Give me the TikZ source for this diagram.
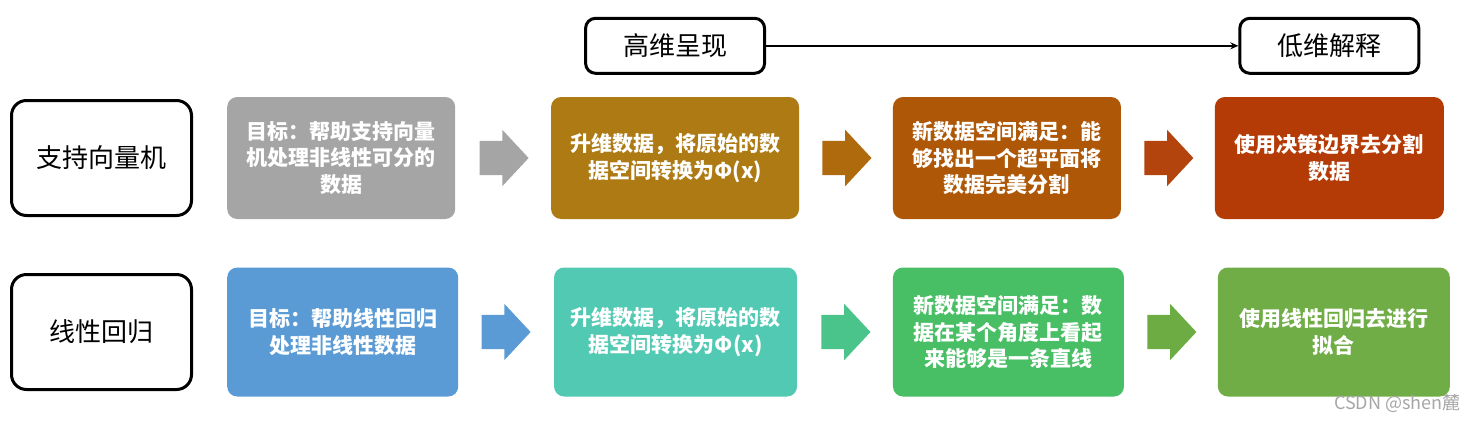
\documentclass[tikz,border=0pt]{standalone}
\usepackage{fontspec}
\newfontfamily\cjk{Noto Sans CJK SC}
\usetikzlibrary{arrows.meta,positioning,shapes.arrows}
\definecolor{grayc}{HTML}{A5A5A5}
\definecolor{goldc}{HTML}{AD7A13}
\definecolor{brownc}{HTML}{AE5707}
\definecolor{redc}{HTML}{B43B05}
\definecolor{goldarr}{HTML}{AE6A0C}
\definecolor{redarr}{HTML}{B3440E}
\definecolor{bluec}{HTML}{5B9BD5}
\definecolor{tealc}{HTML}{52C9B3}
\definecolor{greenc}{HTML}{48BE65}
\definecolor{olivec}{HTML}{70AD47}
\definecolor{tealarr}{HTML}{4BC48B}
\definecolor{olivearr}{HTML}{6DAC43}
\tikzset{
  catblk/.style={draw,line width=3pt,rounded corners=15pt,fill=white,minimum width=180pt,minimum height=115pt,font=\cjk\fontsize{26}{30}\selectfont},
  tagblk/.style={catblk,rounded corners=10pt,minimum width=179pt,minimum height=55pt},
  stpblk/.style={rounded corners=10pt,inner sep=0pt,text=white,align=center,font=\cjk\bfseries\fontsize{21}{26.5}\selectfont},
  row1/.style={stpblk,minimum height=122pt},
  row2/.style={stpblk,minimum height=129pt},
  blkarr/.style={single arrow,single arrow head extend=11pt,single arrow tip angle=94,inner xsep=0pt,inner ysep=17pt,minimum height=49pt,minimum width=56pt},
  arr/.style={-{Stealth[length=8pt,width=7pt]},line width=2pt}
}

\begin{document}
\begin{tikzpicture}
  \useasboundingbox (0,0) rectangle (1479pt,-421pt);

  % support vector machine
  \node[catblk] (svm) at (101.5pt,-158pt) {支持向量机};
  \node[row1, fill=grayc, minimum width=228pt, right=34pt of svm] (goal1) {目标：帮助支持向量\\机处理非线性可分的\\数据};
  \node[blkarr, fill=grayc, right=24pt of goal1] (a11) {};
  \node[row1, fill=goldc, minimum width=248pt, right=22pt of a11] (lift1) {升维数据，将原始的数\\据空间转换为Φ(x)};
  \node[blkarr, fill=goldarr, right=23pt of lift1] (a12) {};
  \node[row1, fill=brownc, minimum width=228pt, right=21pt of a12] (space1) {新数据空间满足：能\\够找出一个超平面将\\数据完美分割};
  \node[blkarr, fill=redarr, right=23pt of space1] (a13) {};
  \node[row1, fill=redc, minimum width=229pt, right=21pt of a13] (solve1) {使用决策边界去分割\\数据};

  % linear regression
  \node[catblk] (linreg) at (101.5pt,-332pt) {线性回归};
  \node[row2, fill=bluec, minimum width=231pt, right=34pt of linreg] (goal2) {目标：帮助线性回归\\处理非线性数据};
  \node[blkarr, fill=bluec, right=23pt of goal2] (a21) {};
  \node[row2, fill=tealc, minimum width=243pt, right=23pt of a21] (lift2) {升维数据，将原始的数\\据空间转换为Φ(x)};
  \node[blkarr, fill=tealarr, right=24pt of lift2] (a22) {};
  \node[row2, fill=greenc, minimum width=231pt, right=22pt of a22] (space2) {新数据空间满足：数\\据在某个角度上看起\\来能够是一条直线};
  \node[blkarr, fill=olivearr, right=23pt of space2] (a23) {};
  \node[row2, fill=olivec, minimum width=232pt, right=21pt of a23] (solve2) {使用线性回归去进行\\拟合};

  \node[tagblk, above=22pt of lift1] (high) {高维呈现};
  \node[tagblk, above=22pt of solve1] (low) {低维解释};
  \draw[arr] (high.east) -- (low.west);

  \node[anchor=east, text=gray!70, font=\cjk\fontsize{18}{20}\selectfont] (mark) at (1464pt,-403pt) {CSDN @shen麓};
\end{tikzpicture}
\end{document}
